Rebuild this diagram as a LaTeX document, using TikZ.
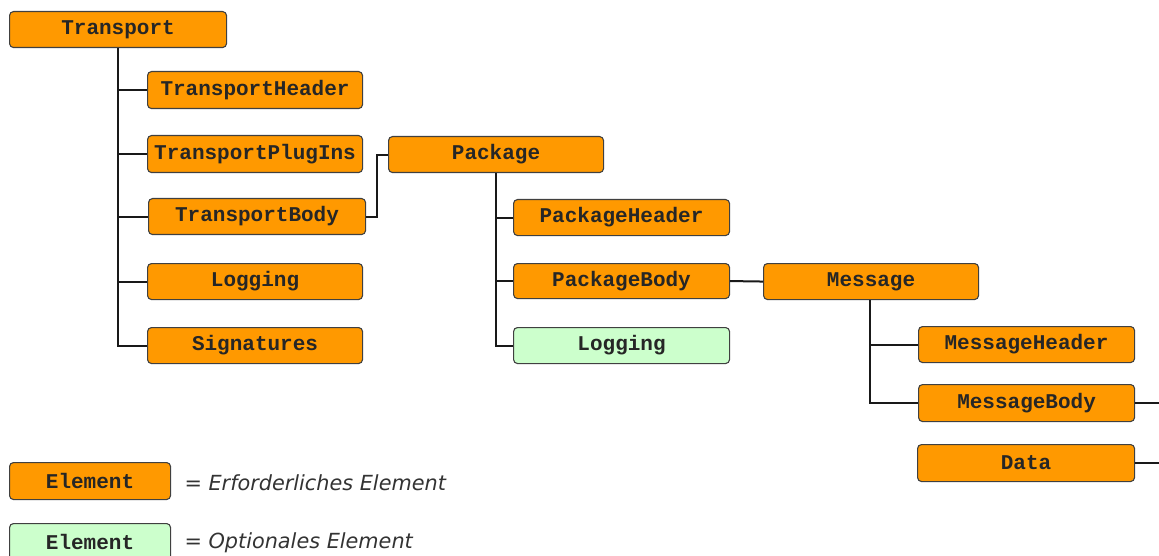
\documentclass[tikz,border=0pt]{standalone}
\usepackage{fontspec}
\newfontfamily\boxfont{Liberation Mono}
\newfontfamily\legfont{DejaVu Sans}
\definecolor{req}{HTML}{FF9900}
\definecolor{opt}{HTML}{CCFFCC}
\definecolor{bord}{HTML}{404040}
\begin{document}
\begin{tikzpicture}[x=1pt,y=-1pt,
  elem/.style={draw=bord, line width=1.1pt, rounded corners=4pt, fill=req, anchor=north west,
    inner sep=0pt, font=\boxfont\bfseries\fontsize{21}{21}\selectfont, text=black!85},
  optelem/.style={elem, fill=opt},
  conn/.style={draw=black!90, line width=2pt},
  leg/.style={anchor=west, font=\legfont\itshape\fontsize{20.8}{21}\selectfont, text=black!80}]
\useasboundingbox (0,0) rectangle (1159,556);

\node[elem, minimum width=217pt, minimum height=36pt] (T) at (9,11) {Transport};
\node[elem, minimum width=215pt, minimum height=37pt] (TH) at (147,71) {TransportHeader};
\node[elem, minimum width=215pt, minimum height=37pt] (TP) at (147,135) {TransportPlugIns};
\node[elem, minimum width=217pt, minimum height=36pt] (TB) at (148,198) {TransportBody};
\node[elem, minimum width=215pt, minimum height=36pt] (TL) at (147,263) {Logging};
\node[elem, minimum width=215pt, minimum height=36pt] (TS) at (147,327) {Signatures};

\node[elem, minimum width=215pt, minimum height=36pt] (P) at (388,136) {Package};
\node[elem, minimum width=216pt, minimum height=36pt] (PH) at (513,199) {PackageHeader};
\node[elem, minimum width=216pt, minimum height=35pt] (PB) at (513,263) {PackageBody};
\node[optelem, minimum width=216pt, minimum height=36pt] (PL) at (513,327) {Logging};

\node[elem, minimum width=215pt, minimum height=36pt] (M) at (763,263) {Message};
\node[elem, minimum width=216pt, minimum height=36pt] (MH) at (918,326) {MessageHeader};
\node[elem, minimum width=216pt, minimum height=37pt] (MB) at (918,384) {MessageBody};
\node[elem, minimum width=217pt, minimum height=37pt] (D) at (917,444) {Data};

\coordinate (MBend) at (1159,402);
\coordinate (Dend) at (1159,462);

\node[elem, minimum width=161pt, minimum height=37pt] (LE1) at (9,462) {Element};
\node[optelem, minimum width=161pt, minimum height=37pt] (LE2) at (9,523) {Element};
\node[leg] (LT1) at (181,483) {= Erforderliches Element};
\node[leg] (LT2) at (181,543) {= Optionales Element};

\draw[conn] (T.south) |- (TH.west);
\draw[conn] (T.south) |- (TP.west);
\draw[conn] (T.south) |- (TB.west);
\draw[conn] (T.south) |- (TL.west);
\draw[conn] (T.south) |- (TS.west);

\draw[conn] (TB.east) -- ++(11,0) |- (P.west);

\draw[conn] (P.south) |- (PH.west);
\draw[conn] (P.south) |- (PB.west);
\draw[conn] (P.south) |- (PL.west);

\draw[conn] (PB.east) -- (M.west);

\draw[conn] ([xshift=-1.5pt]M.south) |- (MH.west);
\draw[conn] ([xshift=-1.5pt]M.south) |- (MB.west);

\draw[conn] (MB.east) -- (MB.east -| MBend);
\draw[conn] (D.east) -- (D.east -| Dend);
\end{tikzpicture}
\end{document}
